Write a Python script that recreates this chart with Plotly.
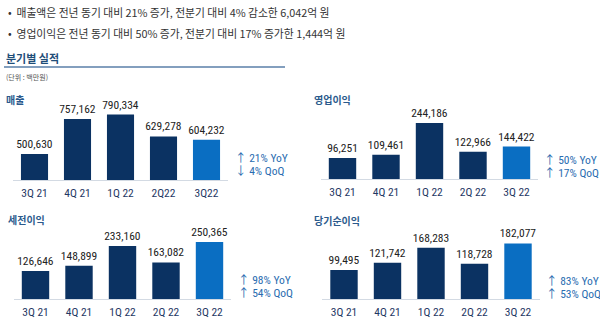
import plotly.graph_objects as go

# ---- data ----
cats_sales = ["3Q 21", "4Q 21", "1Q 22", "2Q22", "3Q22"]
cats_other = ["3Q 21", "4Q 21", "1Q 22", "2Q 22", "3Q 22"]
sales = [500630, 757162, 790334, 629278, 604232]
op_income = [96251, 109461, 244186, 122966, 144422]
pretax_income = [126646, 148899, 233160, 163082, 250365]
net_income = [99495, 121742, 168283, 118728, 182077]

panel_titles = ["매출", "영업이익", "세전이익", "당기순이익"]
yoy_lines = [["↑ 21% YoY", "↓ 4% QoQ"], ["↑ 50% YoY", "↑ 17% QoQ"],
             ["↑ 98% YoY", "↑ 54% QoQ"], ["↑ 83% YoY", "↑ 53% QoQ"]]
bullets = ["•  매출액은 전년 동기 대비 21% 증가, 전분기 대비 4% 감소한 6,042억 원",
           "•  영업이익은 전년 동기 대비 50% 증가, 전분기 대비 17% 증가한 1,444억 원"]
section_title = "분기별 실적"
unit_text = "(단위 : 백만원)"

# ---- styles ----
W, H = 600, 322
NAVY = "#0b3262"
BLUE = "#0a6ec2"
TITLE_C = "#2b5a8c"
NUM_FONT = "Liberation Sans Narrow, Roboto Condensed, Arial Narrow, Noto Sans CJK KR, sans-serif"
KR_FONT = "Noto Sans CJK KR"

def px_x(p):
    return p / W

def px_y(p):
    return 1 - p / H

colors = [NAVY] * 4 + [BLUE]

panels = [
    dict(cats=cats_sales, vals=sales, xd=(13, 228), yd=(95, 180), yr=(309000, 934000)),
    dict(cats=cats_other, vals=op_income, xd=(320.75, 538.25), yd=(95, 179), yr=(7000, 363000)),
    dict(cats=cats_other, vals=pretax_income, xd=(13.75, 231.25), yd=(215, 299), yr=(7100, 366000)),
    dict(cats=cats_other, vals=net_income, xd=(322.25, 539.75), yd=(215, 299), yr=(9800, 270000)),
]

fig = go.Figure()
layout = dict(
    width=W, height=H, margin=dict(l=0, r=0, t=0, b=0),
    paper_bgcolor="white", plot_bgcolor="white", showlegend=False,
    bargap=0.37, font=dict(family=KR_FONT),
)

for i, p in enumerate(panels):
    sfx = "" if i == 0 else str(i + 1)
    fig.add_trace(go.Bar(
        x=p["cats"], y=p["vals"], marker=dict(color=colors, line=dict(width=0)),
        text=[f"{v:,}" for v in p["vals"]], texttemplate="%{text}",
        textposition="outside", cliponaxis=False, constraintext="none",
        textfont=dict(family=NUM_FONT, size=11.5, color="#222222"),
        xaxis="x" + sfx, yaxis="y" + sfx, hoverinfo="skip",
    ))
    layout["xaxis" + sfx] = dict(
        domain=[px_x(p["xd"][0]), px_x(p["xd"][1])], anchor="y" + sfx,
        showline=True, linecolor="#d3dae3", linewidth=1, ticks="",
        showgrid=False, zeroline=False, fixedrange=True,
        tickfont=dict(family=NUM_FONT, size=11.5, color="#1f3864"),
        ticklabelstandoff=2,
    )
    layout["yaxis" + sfx] = dict(
        domain=[px_y(p["yd"][1]), px_y(p["yd"][0])], anchor="x" + sfx,
        range=list(p["yr"]), visible=False, showgrid=False, zeroline=False,
    )

fig.update_layout(**layout)

ann = []
# bullets
for txt, yy in zip(bullets, [12, 33]):
    ann.append(dict(x=px_x(6), y=px_y(yy), text=txt, xanchor="left", yanchor="middle",
                    font=dict(family=KR_FONT, size=10.8, color="#333333")))
ann.append(dict(x=px_x(4), y=px_y(58), text="<b>" + section_title + "</b>", xanchor="left",
                yanchor="middle", font=dict(family=KR_FONT, size=11, color="#1f4e79")))
ann.append(dict(x=px_x(4), y=px_y(77), text=unit_text, xanchor="left", yanchor="middle",
                font=dict(family=KR_FONT, size=7, color="#555555")))

title_pos = [(4, 100), (312, 100), (6, 219), (312, 220)]
for t, (xx, yy) in zip(panel_titles, title_pos):
    ann.append(dict(x=px_x(xx), y=px_y(yy), text="<b>" + t + "</b>", xanchor="left",
                    yanchor="middle",
                    font=dict(family=KR_FONT, size=10, color=TITLE_C)))

yoy_pos = [(233, 158), (542, 160), (236, 280), (544, 281)]
for lines, (xx, yy) in zip(yoy_lines, yoy_pos):
    for k, ln in enumerate(lines):
        ann.append(dict(x=px_x(xx), y=px_y(yy + 12.5 * k), text=ln, xanchor="left",
                        yanchor="middle",
                        font=dict(family=NUM_FONT, size=11.5, color="#2a6cb0")))

for a in ann:
    a.update(xref="paper", yref="paper", showarrow=False)
fig.update_layout(annotations=ann)

fig.add_shape(type="line", xref="paper", yref="paper",
              x0=px_x(4), x1=px_x(285), y0=px_y(67), y1=px_y(67),
              line=dict(color="#5a7fa8", width=1.5))

fig.write_html("out.html")
